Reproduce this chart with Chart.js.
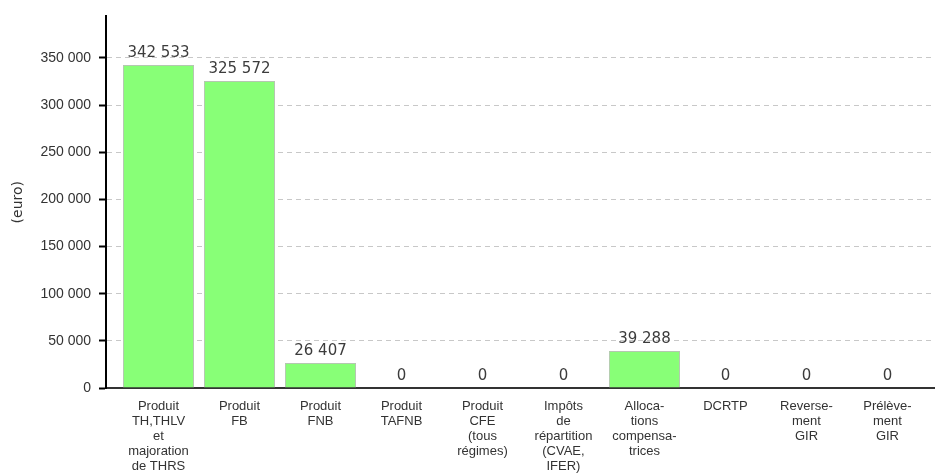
<!DOCTYPE html>
<html lang="fr">
<head>
<meta charset="utf-8">
<title>Produits fiscaux</title>
<script src="https://cdn.jsdelivr.net/npm/chart.js@4/dist/chart.umd.min.js"></script>
<style>
  html, body { margin: 0; padding: 0; background: #fff; }
  #wrap { width: 935px; height: 473px; }
</style>
</head>
<body>
<div id="wrap"><canvas id="chart" width="935" height="473"></canvas></div>
<script>
// categories (one array of lines per bar)
const categories = [
  ['Produit', 'TH,THLV', 'et', 'majoration', 'de THRS'],
  ['Produit', 'FB'],
  ['Produit', 'FNB'],
  ['Produit', 'TAFNB'],
  ['Produit', 'CFE', '(tous', 'régimes)'],
  ['Impôts', 'de', 'répartition', '(CVAE,', 'IFER)'],
  ['Alloca-', 'tions', 'compensa-', 'trices'],
  ['DCRTP'],
  ['Reverse-', 'ment', 'GIR'],
  ['Prélève-', 'ment', 'GIR']
];
const values = [342533, 325572, 26407, 0, 0, 0, 39288, 0, 0, 0];
const yTicks = [0, 50000, 100000, 150000, 200000, 250000, 300000, 350000];
const yTitle = '(euro)';

// 342 533 style grouping
const fmt = (v) => String(v).replace(/\B(?=(\d{3})+(?!\d))/g, ' ');

// value written above each bar
const valueLabels = {
  id: 'valueLabels',
  afterDatasetsDraw(chart) {
    const { ctx } = chart;
    const meta = chart.getDatasetMeta(0);
    ctx.save();
    ctx.font = '15px "DejaVu Sans"';
    ctx.fillStyle = '#3c3c3c';
    ctx.textAlign = 'center';
    ctx.textBaseline = 'alphabetic';
    meta.data.forEach((bar, i) => {
      ctx.fillText(fmt(values[i]), bar.x, bar.y - 8);
    });
    ctx.restore();
  }
};

const tickFont = { family: '"Liberation Sans", Arial, sans-serif', size: 13 };

new Chart(document.getElementById('chart'), {
  type: 'bar',
  data: {
    datasets: [{
      data: values.map((v, i) => ({ x: i, y: v })),
      backgroundColor: '#88ff77',
      borderColor: '#b4c8b0',
      borderWidth: 1,
      barPercentage: 0.877,
      categoryPercentage: 1
    }]
  },
  options: {
    responsive: false,
    animation: false,
    devicePixelRatio: 1,
    layout: { padding: { top: 14, right: 0, left: 0, bottom: 0 } },
    plugins: {
      legend: { display: false },
      tooltip: { enabled: false }
    },
    scales: {
      x: {
        type: 'linear',
        offset: false,
        min: -0.648,
        max: 9.587,
        afterBuildTicks: (s) => { s.ticks = categories.map((c, i) => ({ value: i })); },
        afterFit: (s) => { s.height = 85; },
        grid: { display: false, drawTicks: false, offset: false },
        border: { color: '#333', width: 2 },
        ticks: {
          autoSkip: false,
          maxRotation: 0,
          padding: 11,
          color: '#333',
          font: { ...tickFont, lineHeight: 1.15 },
          callback: (v) => categories[v]
        }
      },
      y: {
        min: 0,
        max: 394000,
        afterBuildTicks: (s) => { s.ticks = yTicks.map((v) => ({ value: v })); },
        afterFit: (s) => { s.width = 106; },
        grid: {
          color: '#c8c8c8',
          lineWidth: 1,
          tickLength: 7,
          tickColor: '#000',
          tickWidth: 2,
          tickBorderDash: []
        },
        border: { color: '#000', width: 2, dash: [5, 4] },
        ticks: {
          padding: 8,
          color: '#333',
          font: { ...tickFont, size: 14 },
          callback: (v) => fmt(v)
        },
        title: {
          display: true,
          text: yTitle,
          color: '#333',
          font: { family: '"DejaVu Sans", sans-serif', size: 14 },
          padding: { top: 10, bottom: 0 }
        }
      }
    }
  },
  plugins: [valueLabels]
});
</script>
</body>
</html>
